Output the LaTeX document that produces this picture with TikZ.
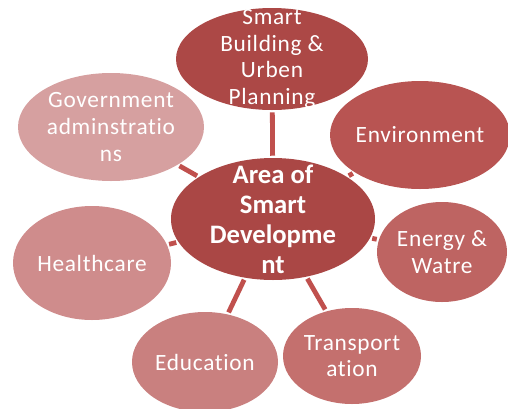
\documentclass[tikz,border=0pt]{standalone}
\usepackage{fontspec}
\setmainfont{Carlito}[Ligatures=NoCommon,LetterSpace=3,BoldFeatures={LetterSpace=0}]
\usepackage{xcolor}
\definecolor{devred}{RGB}{170,71,69}
\definecolor{buildred}{RGB}{172,72,70}
\definecolor{envred}{RGB}{184,84,82}
\definecolor{energyred}{RGB}{190,100,98}
\definecolor{transred}{RGB}{196,112,110}
\definecolor{edured}{RGB}{201,128,127}
\definecolor{healthred}{RGB}{207,140,140}
\definecolor{govred}{RGB}{214,160,160}
\definecolor{linkred}{RGB}{192,80,77}
\usetikzlibrary{shapes.geometric}

\begin{document}
\begin{tikzpicture}[x=0.75pt,y=-0.75pt,
    blob/.style={ellipse,inner sep=0pt},
    lbl/.style={text=white,align=center,inner sep=0pt,font=\fontsize{17.5}{20}\selectfont},
    link/.style={line width=3.6pt,linkred,shorten <=1.5pt,shorten >=1.5pt}]
            % Parameters
            \def\px{0.75pt}
            % Page
            \useasboundingbox (0,0) rectangle (508,408);
            % Centres
            \coordinate (Cdev) at (273,219);
            \coordinate (Cbuild) at (272,59);
            \coordinate (Cenv) at (420,135);
            \coordinate (Cenergy) at (442,252);
            \coordinate (Ctrans) at (352,356);
            \coordinate (Cedu) at (205,362);
            \coordinate (Chealth) at (92,263);
            \coordinate (Cgov) at (111,127);
            % Outer ellipses
            \node[blob,fill=buildred,minimum width=192*\px,minimum height=102*\px,
                label={[lbl]center:Smart\\Building \&\\Urben\\Planning}] (build) at (Cbuild) {};
            \node[blob,fill=envred,minimum width=180*\px,minimum height=108*\px,
                label={[lbl]center:Environment}] (env) at (Cenv) {};
            \node[blob,fill=energyred,minimum width=130*\px,minimum height=100*\px,
                label={[lbl]center:Energy \&\\Watre}] (energy) at (Cenergy) {};
            \node[blob,fill=transred,minimum width=138*\px,minimum height=96*\px,
                label={[lbl]center:Transport\\ation}] (trans) at (Ctrans) {};
            \node[blob,fill=edured,minimum width=146*\px,minimum height=100*\px,
                label={[lbl]center:Education}] (edu) at (Cedu) {};
            \node[blob,fill=healthred,minimum width=158*\px,minimum height=114*\px,
                label={[lbl]center:Healthcare}] (health) at (Chealth) {};
            \node[blob,fill=govred,minimum width=186*\px,minimum height=108*\px,
                label={[lbl]center:Government\\adminstratio\\ns}] (gov) at (Cgov) {};
            % Centre ellipse
            \node[blob,fill=devred,minimum width=204*\px,minimum height=122*\px,
                label={[lbl,font=\fontsize{20}{22.5}\selectfont\bfseries]center:Area of\\Smart\\Developme\\nt}] (dev) at (Cdev) {};
            % Connectors
            \foreach \n in {build,env,energy,trans,edu,health,gov}
                \draw[link] (dev) -- (\n);
        \end{tikzpicture}
\end{document}
